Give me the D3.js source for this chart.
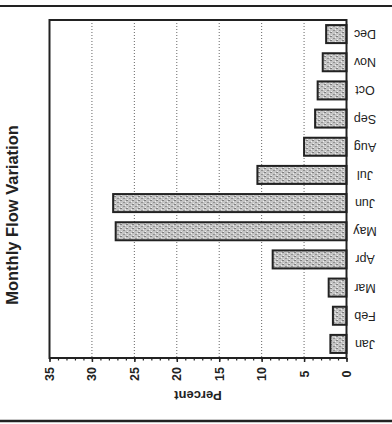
<!DOCTYPE html>
<html><head><meta charset="utf-8">
<script src="https://cdn.jsdelivr.net/npm/d3@7"></script>
<style>html,body{margin:0;padding:0;background:#fff;}svg{display:block;}</style>
</head><body>
<script>
const months = ["Jan","Feb","Mar","Apr","May","Jun","Jul","Aug","Sep","Oct","Nov","Dec"];
const values = [1.9,1.6,2.1,8.7,27.2,27.5,10.5,5.0,3.7,3.4,2.8,2.4];
const majorTicks = [0,5,10,15,20,25,30,35];
const minorTicks = d3.range(0,36,1);
const gridTicks = [5,10,15,20,25,30];
const title = "Monthly Flow Variation";
const axisTitle = "Percent";

(function(){
const W = 392, H = 424;
const svg = d3.select("body").append("svg").attr("width",W).attr("height",H);

const defs = svg.append("defs");
const pat = defs.append("pattern").attr("id","tex").attr("patternUnits","userSpaceOnUse")
  .attr("width",6).attr("height",4);
pat.append("rect").attr("width",6).attr("height",4).attr("fill","#c4c4c4");
pat.append("rect").attr("x",0).attr("y",0).attr("width",2).attr("height",1).attr("fill","#7e7e7e");
pat.append("rect").attr("x",3).attr("y",2).attr("width",2).attr("height",1).attr("fill","#909090");
pat.append("rect").attr("x",1).attr("y",3).attr("width",1).attr("height",1).attr("fill","#eeeeee");
pat.append("rect").attr("x",5).attr("y",1).attr("width",1).attr("height",1).attr("fill","#eeeeee");

// page border lines
svg.append("line").attr("x1",0).attr("x2",W).attr("y1",6).attr("y2",6).attr("stroke","#222").attr("stroke-width",2);
svg.append("line").attr("x1",0).attr("x2",W).attr("y1",421).attr("y2",421).attr("stroke","#222").attr("stroke-width",2.5);

const pL = 49.5, pR = 346.5, pT = 20, pB = 358;
const x = d3.scaleLinear().domain([0,35]).range([pR,pL]);
const y = d3.scaleBand().domain(months).range([pB,pT]).paddingInner(0.36).paddingOuter(0.18);

// grid
svg.append("g").selectAll("line").data(gridTicks).join("line")
  .attr("x1",d=>x(d)).attr("x2",d=>x(d)).attr("y1",pT).attr("y2",pB)
  .attr("stroke","#666").attr("stroke-width",1).attr("stroke-dasharray","1,2");

// bars
svg.append("g").selectAll("rect").data(months).join("rect")
  .attr("x",(d,i)=>x(values[i])).attr("y",d=>y(d))
  .attr("width",(d,i)=>x(0)-x(values[i])).attr("height",y.bandwidth())
  .attr("fill","url(#tex)").attr("stroke","#222").attr("stroke-width",2);

// frame
svg.append("rect").attr("x",pL).attr("y",pT).attr("width",pR-pL).attr("height",pB-pT)
  .attr("fill","none").attr("stroke","#222").attr("stroke-width",2);

// minor ticks
const minorAxis = d3.axisBottom(x).tickValues(minorTicks).tickSize(2.5).tickFormat("");
const gMinor = svg.append("g").attr("transform",`translate(0,${pB})`).call(minorAxis);
gMinor.select(".domain").remove();
gMinor.selectAll("line").attr("stroke","#222").attr("stroke-width",1.2);

// major ticks + labels
const majorAxis = d3.axisBottom(x).tickValues(majorTicks).tickSize(4).tickFormat(d3.format("d"));
const gMajor = svg.append("g").attr("transform",`translate(0,${pB})`).call(majorAxis);
gMajor.select(".domain").remove();
gMajor.selectAll("line").attr("stroke","#222").attr("stroke-width",1.5);
gMajor.selectAll("text")
  .attr("y",null).attr("dy",null)
  .attr("transform","translate(0,16) rotate(-90)")
  .attr("text-anchor","middle").attr("dominant-baseline","central")
  .attr("font-family","Liberation Sans, Arial, sans-serif").attr("font-weight","bold")
  .attr("font-size",12.5).attr("fill","#222");

// month labels (upside down)
svg.append("g").selectAll("text").data(months).join("text")
  .attr("transform",d=>`translate(365,${y(d)+y.bandwidth()/2}) rotate(180)`)
  .attr("text-anchor","middle").attr("dominant-baseline","central")
  .attr("font-family","Liberation Sans, Arial, sans-serif").attr("font-size",12.5).attr("fill","#222")
  .text(d=>d);

// axis title (upside down)
svg.append("text").attr("transform",`translate(198,395) rotate(180)`)
  .attr("text-anchor","middle").attr("dominant-baseline","central")
  .attr("font-family","Liberation Sans, Arial, sans-serif").attr("font-weight","bold")
  .attr("font-size",13).attr("fill","#222").text(axisTitle);

// chart title
svg.append("text").attr("transform",`translate(12,215) rotate(-90)`)
  .attr("text-anchor","middle").attr("dominant-baseline","central")
  .attr("font-family","Liberation Sans, Arial, sans-serif").attr("font-weight","bold")
  .attr("font-size",16.5).attr("fill","#222").text(title);
})();
</script>
</body></html>
